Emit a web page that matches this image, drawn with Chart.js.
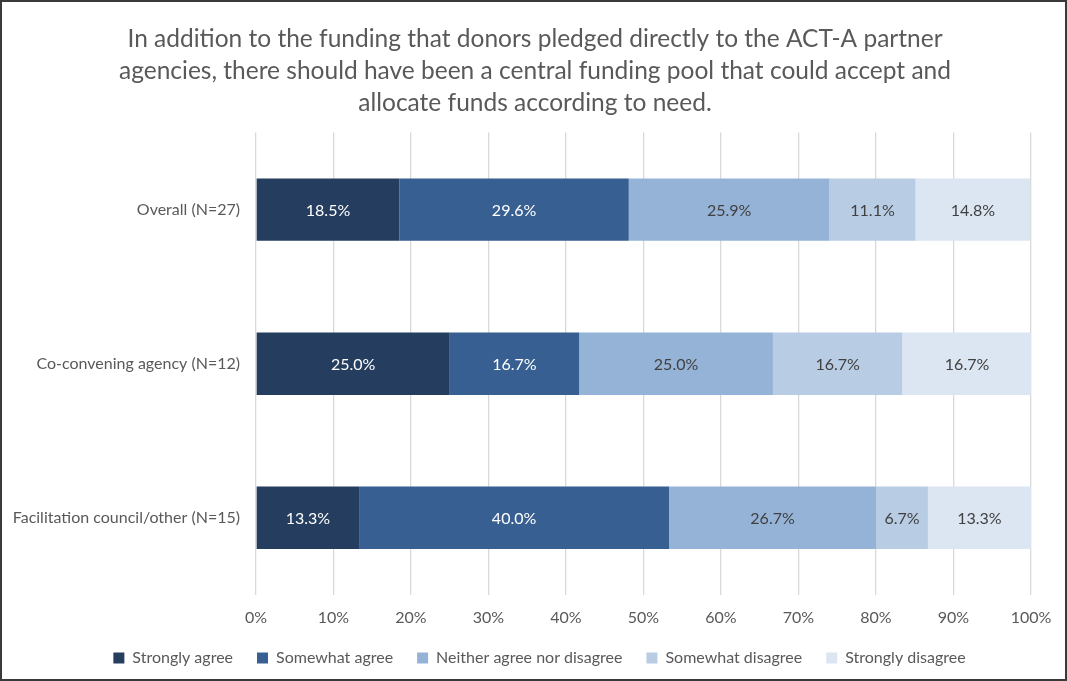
<!DOCTYPE html>
<html>
<head>
<meta charset="utf-8">
<script src="https://cdn.jsdelivr.net/npm/chart.js@4.4.1/dist/chart.umd.min.js"></script>
<style>
  html, body { margin: 0; padding: 0; background: #fff; }
  #wrap { position: absolute; left: 0; top: 0; width: 1063px; height: 677px; border: 2px solid #3a3a3a; }
  canvas { display: block; }
</style>
</head>
<body>
<div id="wrap"><canvas id="chart" width="1063" height="677"></canvas></div>
<script>
// data
const groups = ['Overall (N=27)', 'Co-convening agency (N=12)', 'Facilitation council/other (N=15)'];
const answers = ['Strongly agree', 'Somewhat agree', 'Neither agree nor disagree', 'Somewhat disagree', 'Strongly disagree'];
const stronglyAgree = [18.5, 25.0, 13.3];
const somewhatAgree = [29.6, 16.7, 40.0];
const neither = [25.9, 25.0, 26.7];
const somewhatDisagree = [11.1, 16.7, 6.7];
const stronglyDisagree = [14.8, 16.7, 13.3];
const xTicks = [0, 10, 20, 30, 40, 50, 60, 70, 80, 90, 100];

const colors = ['#253e5f', '#375f92', '#95b3d7', '#b8cce4', '#dce6f2'];
const labelColors = ['#ffffff', '#ffffff', '#404040', '#404040', '#404040'];
const FONT = 'Lato, "Open Sans", sans-serif';

// puts the percentage in the middle of each segment
const segmentLabels = {
  id: 'segmentLabels',
  afterDatasetsDraw(chart) {
    const ctx = chart.ctx;
    ctx.save();
    ctx.font = '16px ' + FONT;
    ctx.textAlign = 'center';
    ctx.textBaseline = 'middle';
    chart.data.datasets.forEach((ds, i) => {
      chart.getDatasetMeta(i).data.forEach((bar, j) => {
        ctx.fillStyle = labelColors[i];
        const cx = (bar.x + bar.base) / 2;
        ctx.fillText(ds.data[j].toFixed(1) + '%', cx, bar.y + 1);
      });
    });
    ctx.restore();
  }
};

// small position tweaks: title and legend centred like the original, legend pulled up a bit
const nudge = {
  id: 'nudge',
  afterLayout(chart) {
    chart.titleBlock.left += 35;
    chart.legend.top -= 14;
    chart.legend.bottom -= 14;
    chart.legend.left += 22;
    chart.legend.right += 22;
  }
};

const allSeries = [stronglyAgree, somewhatAgree, neither, somewhatDisagree, stronglyDisagree];

new Chart(document.getElementById('chart'), {
  type: 'bar',
  data: {
    labels: groups,
    datasets: answers.map((name, i) => ({
      label: name,
      data: allSeries[i],
      backgroundColor: colors[i],
      borderWidth: 0,
      barPercentage: 0.405,
      categoryPercentage: 1.0
    }))
  },
  options: {
    indexAxis: 'y',
    responsive: false,
    animation: false,
    layout: { padding: { top: 21, right: 34, bottom: -11, left: 2 } },
    scales: {
      x: {
        stacked: true,
        min: 0,
        max: 100,
        afterBuildTicks: (scale) => { scale.ticks = xTicks.map(v => ({ value: v })); },
        ticks: {
          callback: (v) => v + '%',
          color: '#595959',
          font: { family: FONT, size: 16 },
          padding: 13
        },
        grid: { color: '#d9d9d9', lineWidth: 1.3, drawTicks: false },
        border: { display: false }
      },
      y: {
        stacked: true,
        afterFit: (scale) => { scale.width = 252; },
        ticks: {
          color: '#595959',
          font: { family: FONT, size: 16 },
          padding: 8
        },
        grid: { display: false },
        border: { display: false }
      }
    },
    plugins: {
      title: {
        display: true,
        text: [
          'In addition to the funding that donors pledged directly to the ACT-A partner',
          'agencies, there should have been a central funding pool that could accept and',
          'allocate funds according to need.'
        ],
        color: '#595959',
        font: { family: FONT, size: 24.5, weight: 'normal', lineHeight: 1.3 },
        padding: { top: 0, bottom: 14 }
      },
      legend: {
        position: 'bottom',
        labels: {
          color: '#595959',
          font: { family: FONT, size: 16 },
          boxWidth: 11,
          boxHeight: 11,
          padding: 24
        }
      },
      tooltip: { enabled: false }
    }
  },
  plugins: [segmentLabels, nudge]
});
</script>
</body>
</html>
